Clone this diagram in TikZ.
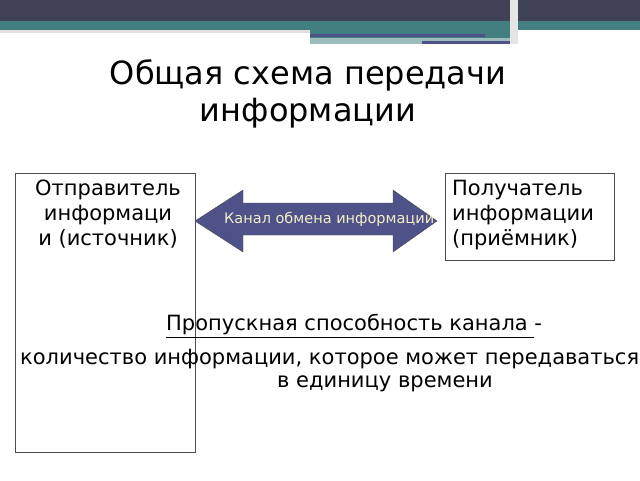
\documentclass[tikz,border=0pt]{standalone}
\usepackage{fontspec}
\setmainfont{DejaVu Sans}
\definecolor{bandDark}{HTML}{404257}
\definecolor{bandTeal}{HTML}{437E80}
\definecolor{bandPale}{HTML}{9DBDBD}
\definecolor{arrowFill}{HTML}{4F5189}
\definecolor{arrowText}{HTML}{F3EEC6}
\tikzset{
  infobox/.style={draw=black!70,fill=white,line width=0.6pt},
  boxtext/.style={font=\fontsize{21}{25}\selectfont,inner sep=0pt},
}
\begin{document}
\begin{tikzpicture}[x=1pt,y=-1pt]
  \useasboundingbox (0,0) rectangle (640,480);
  \clip (0,0) rectangle (640,480);
  % top bands
  \fill[bandDark] (0,0) rectangle (640,21);
  \fill[bandTeal] (0,21) rectangle (640,30);
  \fill[black!12] (0,30) rectangle (310,33);
  \fill[bandTeal] (310,30) rectangle (510,38);
  \fill[bandPale] (310,38) rectangle (510,44);
  \fill[arrowFill] (310,34) rectangle (485,37);
  \fill[arrowFill] (422,41) rectangle (513,44);
  \fill[black!10] (510,0) rectangle (518,44);
  % title
  \node[font=\fontsize{32}{37}\selectfont,align=center] (title) at (308,94)
    {Общая схема передачи\\информации};
  % channel arrow
  \draw[draw=black!70,fill=arrowFill] (195,221) -- (243,190) -- (243,203) -- (393,203)
    -- (393,190) -- (437,221) -- (393,252) -- (393,235) -- (243,235) -- (243,252) -- cycle;
  \node[anchor=west,text=arrowText,font=\fontsize{14.5}{16}\selectfont,inner sep=0pt] (channelText) at (224,219)
    {Канал обмена информации};
  % boxes
  \draw[infobox] (15,173) rectangle (195,452);
  \node[boxtext,align=center,anchor=north] (sender) at (108,180)
    {Отправитель\\информаци\\и (источник)};
  \draw[infobox] (445,173) rectangle (614,260);
  \node[boxtext,align=left,anchor=north west] (receiver) at (452,180)
    {Получатель\\информации\\(приёмник)};
  % capacity definition
  \node[boxtext,anchor=west] (capacity) at (166,326)
    {\underline{Пропускная способность канала }-};
  \node[boxtext,anchor=west] (definition) at (20,359)
    {количество информации, которое может передаваться};
  \node[boxtext] (definition2) at (385,384) {в единицу времени};
\end{tikzpicture}
\end{document}
